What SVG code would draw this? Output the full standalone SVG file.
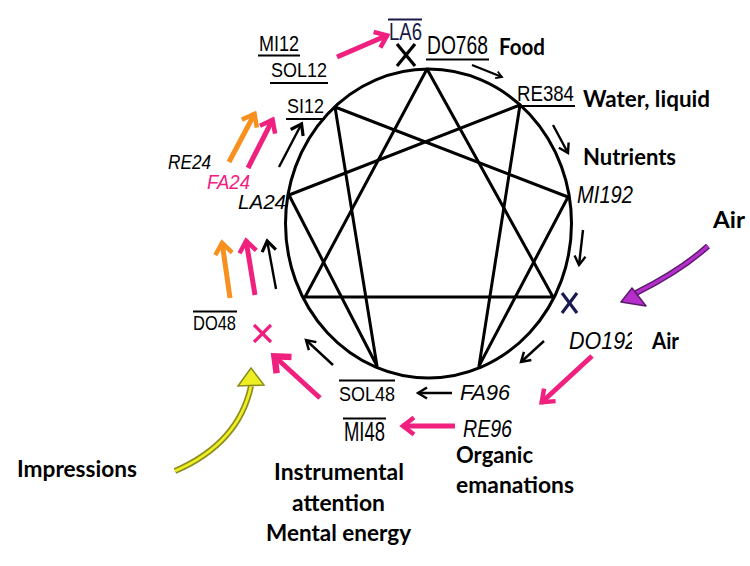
<svg xmlns="http://www.w3.org/2000/svg" width="750" height="566" viewBox="0 0 750 566">
<style>
.n{font-family:"Liberation Sans",Arial,sans-serif;font-size:21px;fill:#000}
.it{font-style:italic}
.w{font-family:Lato,"Liberation Sans",sans-serif;font-weight:bold;font-size:22px;fill:#000}
.bar{stroke:#000;stroke-width:2}
.fig{fill:none;stroke:#000;stroke-width:3;stroke-linejoin:round}
.ab{fill:none;stroke:#000;stroke-width:2.4}
.ap{fill:none;stroke:#f0207f;stroke-width:5}
.ao{fill:none;stroke:#f7901e;stroke-width:5}
.x{stroke-width:3.2;stroke-linecap:butt}
</style>
<defs>
<marker id="mb" markerUnits="userSpaceOnUse" viewBox="-12 -8 14 16" markerWidth="14" markerHeight="16" refX="0" refY="0" orient="auto" overflow="visible">
<path d="M-9,-5.5 L0,0 L-9,5.5" fill="none" stroke="#000" stroke-width="2.4"/>
</marker>
<marker id="mbt" markerUnits="userSpaceOnUse" viewBox="-14 -10 16 20" markerWidth="16" markerHeight="20" refX="0" refY="0" orient="auto" overflow="visible">
<path d="M-11,-7 L-1,0 L-11,7" fill="none" stroke="#000" stroke-width="3.2"/>
</marker>
<marker id="mbs" markerUnits="userSpaceOnUse" viewBox="-12 -8 14 16" markerWidth="14" markerHeight="16" refX="0" refY="0" orient="auto" overflow="visible">
<path d="M-6,-3.5 L0,0 L-6,3.5" fill="none" stroke="#000" stroke-width="1.8"/>
</marker>
<marker id="mp" markerUnits="userSpaceOnUse" viewBox="-16 -12 20 24" markerWidth="20" markerHeight="24" refX="0" refY="0" orient="auto" overflow="visible">
<path d="M-12,-8.5 L-1,0 L-12,8.5" fill="none" stroke="#f0207f" stroke-width="4.5"/>
</marker>
<marker id="mpb" markerUnits="userSpaceOnUse" viewBox="-20 -16 24 32" markerWidth="24" markerHeight="32" refX="0" refY="0" orient="auto" overflow="visible">
<path d="M-15,-11 L-2,0 L-15,11" fill="none" stroke="#f0207f" stroke-width="6.5"/>
</marker>
<marker id="mo" markerUnits="userSpaceOnUse" viewBox="-16 -12 20 24" markerWidth="20" markerHeight="24" refX="0" refY="0" orient="auto" overflow="visible">
<path d="M-12,-8.5 L-1,0 L-12,8.5" fill="none" stroke="#f7901e" stroke-width="4.5"/>
</marker>
<clipPath id="clipDO"><rect x="560" y="320" width="72" height="40"/></clipPath>
</defs>
<rect width="750" height="566" fill="#fff"/>

<g id="enneagram">
<ellipse class="fig" cx="428.5" cy="223.5" rx="143" ry="154.5"/>
<polygon class="fig" points="427,69 553,297 305,297"/>
<polygon class="fig" points="520,105 479,366 568,197 335,107 377,366 289,195"/>
</g>

<g id="node-mi12"><text class="n" x="259" y="51" textLength="40" lengthAdjust="spacingAndGlyphs" style="font-size:22px">MI12</text><line class="bar" x1="258" y1="55.5" x2="300" y2="55.5"/></g>
<g id="node-sol12"><text class="n" x="271" y="77" textLength="56" lengthAdjust="spacingAndGlyphs">SOL12</text><line class="bar" x1="270" y1="83" x2="328" y2="83"/></g>
<g id="node-si12"><text class="n" x="287" y="112.5" textLength="37" lengthAdjust="spacingAndGlyphs">SI12</text><line class="bar" x1="286" y1="119" x2="325" y2="119"/></g>
<g id="node-la6"><text class="n" x="389" y="40" textLength="33" lengthAdjust="spacingAndGlyphs" style="fill:#1a1a4a;font-size:23px">LA6</text><line class="bar" x1="388" y1="19.5" x2="422" y2="19.5" style="stroke:#1a1a4a"/>
<line class="x" x1="397" y1="44" x2="415" y2="66" stroke="#000"/><line class="x" x1="415" y1="44" x2="397" y2="66" stroke="#000"/></g>
<g id="node-do768"><text class="n" x="0" y="0" transform="translate(427,54) scale(0.77,1)" style="font-size:25px">DO768</text><line class="bar" x1="426" y1="59.5" x2="489" y2="59.5"/>
<text class="w" x="499" y="55" textLength="46" lengthAdjust="spacingAndGlyphs" style="font-size:23px">Food</text></g>
<g id="node-re384"><text class="n" x="517" y="100.5" textLength="57" lengthAdjust="spacingAndGlyphs" style="font-size:22px">RE384</text><line class="bar" x1="516" y1="106" x2="575" y2="106"/>
<text class="w" x="583" y="107" textLength="127" lengthAdjust="spacingAndGlyphs">Water, liquid</text></g>
<g id="node-nutrients"><text class="w" x="583" y="165" textLength="93" lengthAdjust="spacingAndGlyphs" style="font-size:23px">Nutrients</text></g>
<g id="node-mi192"><text class="n it" x="577" y="203" textLength="56" lengthAdjust="spacingAndGlyphs" style="font-size:23px">MI192</text></g>
<g id="node-air-in"><text class="w" x="713" y="228" textLength="32" lengthAdjust="spacingAndGlyphs">Air</text></g>
<g id="node-do192">
<line class="x" x1="562" y1="293" x2="577" y2="313" stroke="#1a1a50"/><line class="x" x1="577" y1="293" x2="562" y2="313" stroke="#1a1a50"/>
<text class="n it" x="569" y="349" textLength="68" lengthAdjust="spacingAndGlyphs" style="font-size:24px" clip-path="url(#clipDO)">DO192</text>
<text class="w" x="652" y="349" textLength="27" lengthAdjust="spacingAndGlyphs">Air</text></g>
<g id="node-fa96"><text class="n it" x="460" y="400" textLength="50" lengthAdjust="spacingAndGlyphs" style="font-size:22px">FA96</text></g>
<g id="node-sol48"><text class="n" x="339" y="400.5" textLength="56" lengthAdjust="spacingAndGlyphs">SOL48</text><line class="bar" x1="339" y1="380.5" x2="395" y2="380.5"/></g>
<g id="node-re96"><text class="n it" x="463" y="437" textLength="49" lengthAdjust="spacingAndGlyphs" style="font-size:23px">RE96</text>
<text class="w" x="456" y="463" textLength="77" lengthAdjust="spacingAndGlyphs">Organic</text>
<text class="w" x="456" y="493" textLength="118" lengthAdjust="spacingAndGlyphs">emanations</text></g>
<g id="node-mi48"><text class="n" x="344" y="441" textLength="41" lengthAdjust="spacingAndGlyphs" style="font-size:28px">MI48</text><line class="bar" x1="343" y1="418.5" x2="386" y2="418.5"/>
<text class="w" x="274" y="480" textLength="130" lengthAdjust="spacingAndGlyphs">Instrumental</text>
<text class="w" x="292" y="511" textLength="93" lengthAdjust="spacingAndGlyphs">attention</text>
<text class="w" x="266" y="541" textLength="145" lengthAdjust="spacingAndGlyphs">Mental energy</text></g>
<g id="node-do48"><text class="n" x="193" y="330" textLength="43" lengthAdjust="spacingAndGlyphs">DO48</text><line class="bar" x1="193" y1="311.5" x2="237" y2="311.5"/>
<line class="x" x1="254" y1="325" x2="271" y2="342" stroke="#f0207f"/><line class="x" x1="271" y1="325" x2="254" y2="342" stroke="#f0207f"/></g>
<g id="node-impressions"><text class="w" x="17" y="477" textLength="120" lengthAdjust="spacingAndGlyphs">Impressions</text></g>
<g id="node-24">
<text class="n it" x="168" y="169" textLength="43" lengthAdjust="spacingAndGlyphs" style="font-size:20px">RE24</text>
<text class="n it" x="207" y="189" textLength="43" lengthAdjust="spacingAndGlyphs" style="font-size:20px;fill:#f0207f">FA24</text>
<text class="n it" x="238" y="209" textLength="48" lengthAdjust="spacingAndGlyphs" style="font-size:20px">LA24</text>
</g>

<g id="connectors">
<line class="ab" x1="472" y1="65" x2="502" y2="77" marker-end="url(#mbs)" stroke-width="2"/>
<line class="ab" x1="553" y1="125" x2="568" y2="153" marker-end="url(#mb)"/>
<line class="ab" x1="583" y1="230" x2="579" y2="265" marker-end="url(#mb)"/>
<line class="ab" x1="544" y1="341" x2="521" y2="362" marker-end="url(#mb)"/>
<line class="ab" x1="452" y1="393" x2="418" y2="393" marker-end="url(#mb)"/>
<line class="ab" x1="333" y1="365" x2="306" y2="340" marker-end="url(#mb)" stroke-width="3"/>
<line class="ab" x1="279" y1="167" x2="302" y2="123" marker-end="url(#mbt)" stroke-width="3.5"/>
<line class="ab" x1="276" y1="289" x2="267" y2="240" marker-end="url(#mbt)" stroke-width="3.5"/>
<line class="ap" x1="337" y1="57" x2="388" y2="35" marker-end="url(#mp)"/>
<line class="ap" x1="592" y1="356" x2="541" y2="403" marker-end="url(#mp)"/>
<line class="ap" x1="455" y1="426" x2="402" y2="426" marker-end="url(#mp)"/>
<line class="ap" x1="248" y1="168" x2="273" y2="119" marker-end="url(#mp)"/>
<line class="ap" x1="255" y1="295" x2="246" y2="240" marker-end="url(#mp)"/>
<line class="ap" x1="320" y1="398" x2="273" y2="355" marker-end="url(#mpb)" stroke-width="7"/>
<line class="ao" x1="229" y1="162" x2="255" y2="113" marker-end="url(#mo)"/>
<line class="ao" x1="230" y1="298" x2="222" y2="242" marker-end="url(#mo)"/>
<g id="impressions-arrow">
<path d="M175,471 C212,455 242,428 251,386" fill="none" stroke="#8c8c1e" stroke-width="6"/>
<path d="M175,471 C212,455 242,428 251,386" fill="none" stroke="#eeee22" stroke-width="2.8"/>
<polygon points="251,368 238,386 264,385" fill="#eeee22" stroke="#8c8c1e" stroke-width="1.5"/>
</g>
<g id="air-arrow">
<path d="M708,246 C686,266 662,280 636,293" fill="none" stroke="#5a1a6a" stroke-width="6"/>
<path d="M708,246 C686,266 662,280 636,293" fill="none" stroke="#b62ecc" stroke-width="3.2"/>
<polygon points="621,302 632,288 646,306" fill="#b62ecc" stroke="#5a1a6a" stroke-width="1.5" stroke-linejoin="round"/>
</g>
</g>
</svg>
